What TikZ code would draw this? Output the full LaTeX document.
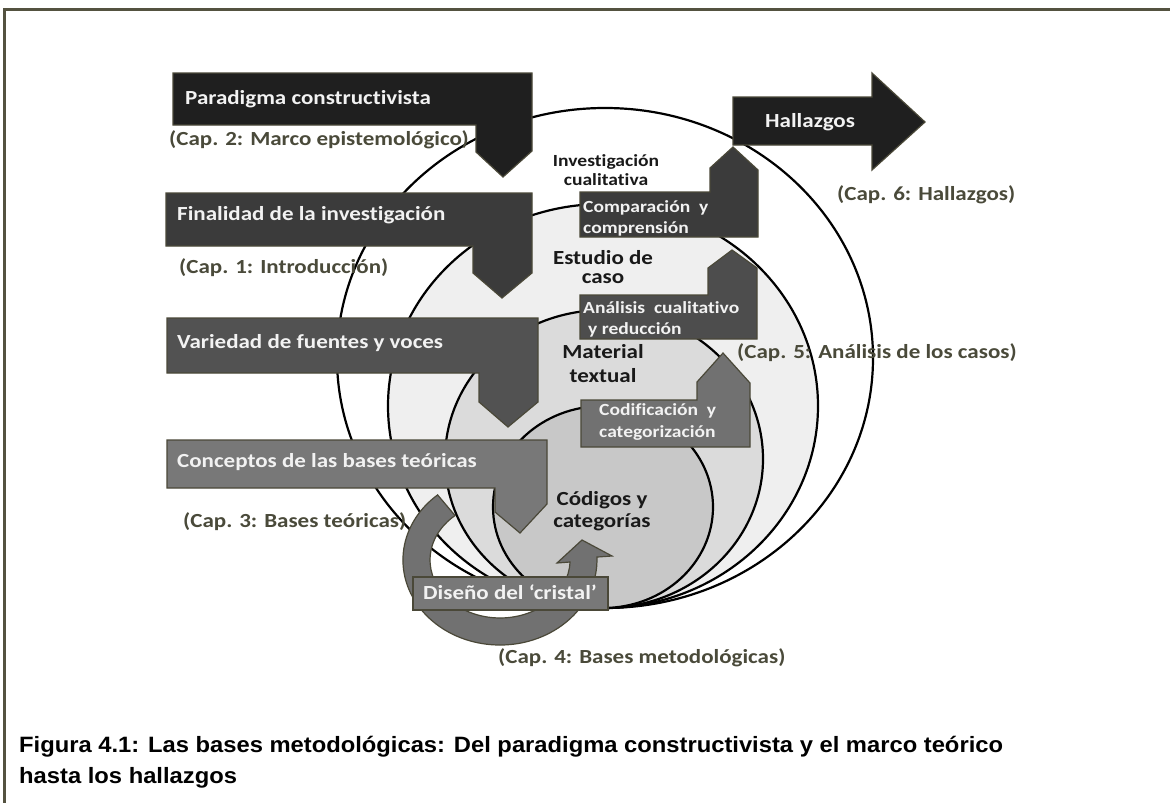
\documentclass[tikz,border=0pt]{standalone}
\usepackage{fontspec}
\setmainfont{Carlito}[FakeStretch=1.15, Ligatures=NoCommon]
\newfontfamily\figcapfont{Liberation Sans}[FakeStretch=1.07]
\definecolor{edgeol}{HTML}{4A4838}
\definecolor{chapcol}{HTML}{4A4A3A}
\definecolor{framecol}{HTML}{545240}
\definecolor{shadeA}{HTML}{1F1F1F}
\definecolor{shadeB}{HTML}{3B3B3B}
\definecolor{shadeC}{HTML}{525252}
\definecolor{shadeD}{HTML}{787878}
\definecolor{stepA}{HTML}{3B3B3B}
\definecolor{stepB}{HTML}{4D4D4D}
\definecolor{stepC}{HTML}{717171}
\definecolor{ringcol}{HTML}{717171}
\definecolor{ovalB}{HTML}{EFEFEF}
\definecolor{ovalC}{HTML}{DBDBDB}
\definecolor{ovalD}{HTML}{C8C8C8}
\newcommand\setfs[1]{\fontsize{#1}{#1}\selectfont}
\begin{document}
\begin{tikzpicture}[x=1pt,y=-1pt,
  panel/.style={draw=edgeol, line width=1.2pt, line join=miter},
  oval/.style={draw=black, line width=2.2pt},
  boxtext/.style={text=white!95!black, font=\setfs{20}\bfseries, anchor=base west, inner sep=0pt},
  steptext/.style={text=white!95!black, font=\setfs{17}\bfseries, anchor=base west, inner sep=0pt},
  chaptext/.style={text=chapcol, font=\setfs{20}\bfseries, anchor=base west, inner sep=0pt},
  ovaltext/.style={text=black!90, font=\setfs{20}\bfseries, anchor=base, inner sep=0pt},
  smallovaltext/.style={text=black!90, font=\setfs{17}\bfseries, anchor=base, inner sep=0pt},
  captext/.style={text=black, font=\figcapfont\setfs{22.2}\bfseries, anchor=base west, inner sep=0pt}]
\useasboundingbox (0,0) rectangle (1170,803);
\fill[white] (0,0) rectangle (1170,803);

% frame lines
\draw[framecol, line width=2.4pt] (4.5,803) -- (4.5,9.5) -- (1170,9.5);

% nested ovals, all touching at the bottom
\draw[oval, fill=white] (605,358) ellipse [x radius=268, y radius=250];
\draw[oval, fill=ovalB] (603,406) ellipse [x radius=215, y radius=202];
\draw[oval, fill=ovalC] (604,459) ellipse [x radius=159, y radius=149];
\draw[oval, fill=ovalD] (603,507) ellipse [x radius=110, y radius=101];

% curved arrow of the design cycle
\path[panel, fill=ringcol] (437.6,494.9)
  arc[start angle=230, end angle=-2, x radius=97, y radius=85]
  -- (612,556) -- (582,540) -- (557,563) -- (570,562)
  arc[start angle=2, end angle=230, x radius=70, y radius=58] -- cycle;

% bent arrows on the left
\path[panel, fill=shadeA] (173,73) -- (532,73) -- (532,151) -- (503,177) -- (476,152) -- (476,125) -- (173,125) -- cycle;
\path[panel, fill=shadeB] (166,193) -- (532,193) -- (532,273) -- (502,298) -- (473,273) -- (473,246) -- (166,246) -- cycle;
\path[panel, fill=shadeC] (167,318) -- (538,318) -- (538,402) -- (508,427) -- (479,402) -- (479,373) -- (167,373) -- cycle;
\path[panel, fill=shadeD] (167,440) -- (547,440) -- (547,504) -- (520,533) -- (495,512) -- (495,488) -- (167,488) -- cycle;

% step arrows inside the ovals
\path[panel, fill=stepA] (580,192) -- (710,192) -- (710,168) -- (733,147) -- (758,170) -- (758,237) -- (580,237) -- cycle;
\path[panel, fill=stepB] (580,295) -- (708,295) -- (708,268) -- (732,250) -- (757,268) -- (757,339) -- (580,339) -- cycle;
\path[panel, fill=stepC] (581,400) -- (697,400) -- (697,382) -- (723,353) -- (750,383) -- (750,447) -- (581,447) -- cycle;

% findings arrow
\path[panel, fill=shadeA] (733,97) -- (872,97) -- (872,73) -- (925,122) -- (872,170) -- (872,145) -- (733,145) -- cycle;

% design box
\path[panel, fill=shadeD] (413,577) rectangle (608,610);

% texts of the bent arrows
\node[boxtext] (paradigma) at (185,104) {Paradigma constructivista};
\node[boxtext] (finalidad) at (177,220) {Finalidad de la investigación};
\node[boxtext] (variedad) at (177,348) {Variedad de fuentes y voces};
\node[boxtext] (conceptos) at (177,467) {Conceptos de las bases teóricas};
\node[boxtext] (hallazgos) at (765,127) {Hallazgos};
\node[boxtext] (diseno) at (423,599) {Diseño del ‘cristal’};

% chapter references
\node[chaptext] (cap2) at (169,145) {(Cap. 2: Marco epistemológico)};
\node[chaptext] (cap1) at (179,273) {(Cap. 1: Introducción)};
\node[chaptext] (cap3) at (183,527) {(Cap. 3: Bases teóricas)};
\node[chaptext] (cap4) at (498,663) {(Cap. 4: Bases metodológicas)};
\node[chaptext] (cap5) at (737,358) {(Cap. 5: Análisis de los casos)};
\node[chaptext] (cap6) at (837,200) {(Cap. 6: Hallazgos)};

% oval labels
\node[smallovaltext] (invA) at (606,166) {Investigación};
\node[smallovaltext] (invB) at (606,185) {cualitativa};
\node[ovaltext] (estA) at (603,264) {Estudio de};
\node[ovaltext] (estB) at (603,283) {caso};
\node[ovaltext] (matA) at (603,358) {Material};
\node[ovaltext] (matB) at (603,382) {textual};
\node[ovaltext] (codA) at (602,505) {Códigos y};
\node[ovaltext] (codB) at (602,527) {categorías};

% step arrow texts
\node[steptext] (compA) at (583,212) {Comparación\ \ y};
\node[steptext] (compB) at (583,233) {comprensión};
\node[steptext] (anaA) at (583,313) {Análisis\ \ cualitativo};
\node[steptext] (anaB) at (588,334) {y reducción};
\node[steptext] (codiA) at (599,415) {Codificación\ \ y};
\node[steptext] (codiB) at (599,437) {categorización};

% caption
\node[captext] (capA) at (19,752) {Figura 4.1: Las bases metodológicas: Del paradigma constructivista y el marco teórico};
\node[captext] (capB) at (19,783) {hasta los hallazgos};
\end{tikzpicture}
\end{document}
